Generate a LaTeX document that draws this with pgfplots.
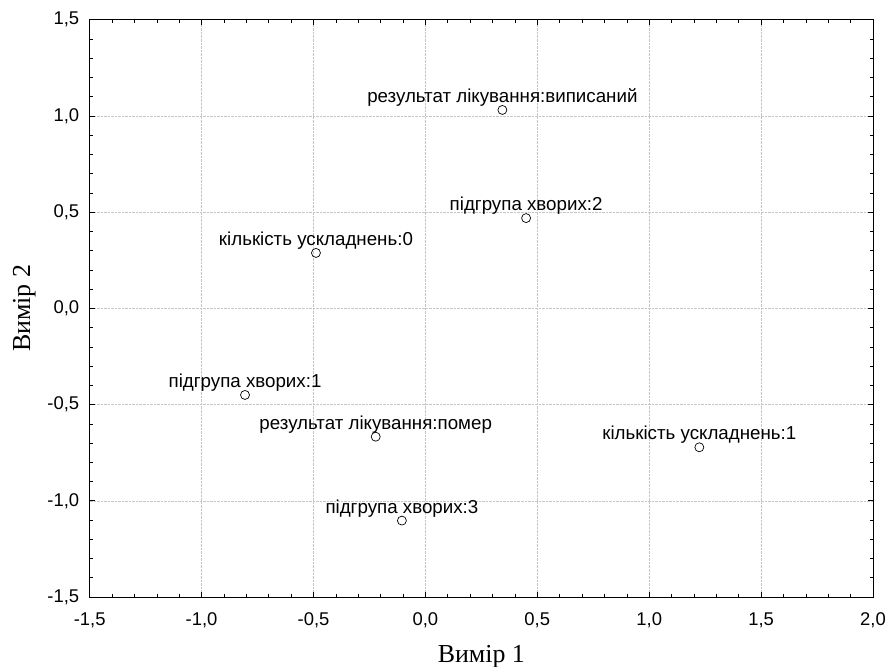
\documentclass[border=0pt]{standalone}
\usepackage{fontspec}
\setmainfont{Liberation Sans}
\newfontfamily\seriffont{Liberation Serif}
\usepackage{pgfplots}
\pgfplotsset{compat=1.18}
\begin{document}
\begin{tikzpicture}
\useasboundingbox (-89.7bp,-70bp) rectangle (797.3bp,597bp);
\begin{axis}[
  scale only axis, width=783.3bp, height=577.3bp,
  at={(0,0)}, anchor=south west,
  xmin=-1.5, xmax=2.0, ymin=-1.5, ymax=1.5,
  xtick={-1.5,-1,...,2}, ytick={-1.5,-1,...,1.5},
  minor x tick num=4, minor y tick num=4,
  tick align=inside, xtick pos=both, ytick pos=both,
  major tick length=5bp, minor tick length=3bp,
  grid=major, major grid style={densely dotted, gray!45, line width=0.5pt},
  axis line style={line width=0.9pt},
  tick style={black, line width=0.6pt},
  ticklabel style={font=\fontsize{18.5}{22}\selectfont},
  xticklabel style={anchor=north, yshift=-12bp},
  yticklabel style={anchor=east, xshift=-7bp},
  /pgf/number format/use comma, /pgf/number format/fixed,
  /pgf/number format/fixed zerofill, /pgf/number format/precision=1,
  /pgf/number format/assume math mode=true,
  xlabel={Вимір 1}, ylabel={Вимір 2},
  label style={font=\seriffont\fontsize{26}{30}\selectfont},
  xlabel style={at={(axis description cs:0.5,-0.1143)}, anchor=base},
  ylabel style={at={(axis description cs:-0.0760,0.5)}, anchor=base, rotate=0},
  clip=false,
]
\addplot[only marks, mark=o, mark size=4.5bp,
  mark options={fill=white, draw=black, line width=0.7pt},
  nodes near coords, point meta=explicit symbolic,
  nodes near coords style={anchor=base, inner sep=0pt, yshift=7.5bp,
    font=\fontsize{18.8}{22}\selectfont, text=black}]
  table[x=x, y=y, meta=label, col sep=comma]{
x,y,label
0.344,1.031,результат лікування:виписаний
0.450,0.469,підгрупа хворих:2
-0.489,0.288,кількість ускладнень:0
-0.806,-0.450,підгрупа хворих:1
-0.222,-0.667,результат лікування:помер
1.224,-0.722,кількість ускладнень:1
-0.105,-1.103,підгрупа хворих:3
};
\end{axis}
\end{tikzpicture}
\end{document}
